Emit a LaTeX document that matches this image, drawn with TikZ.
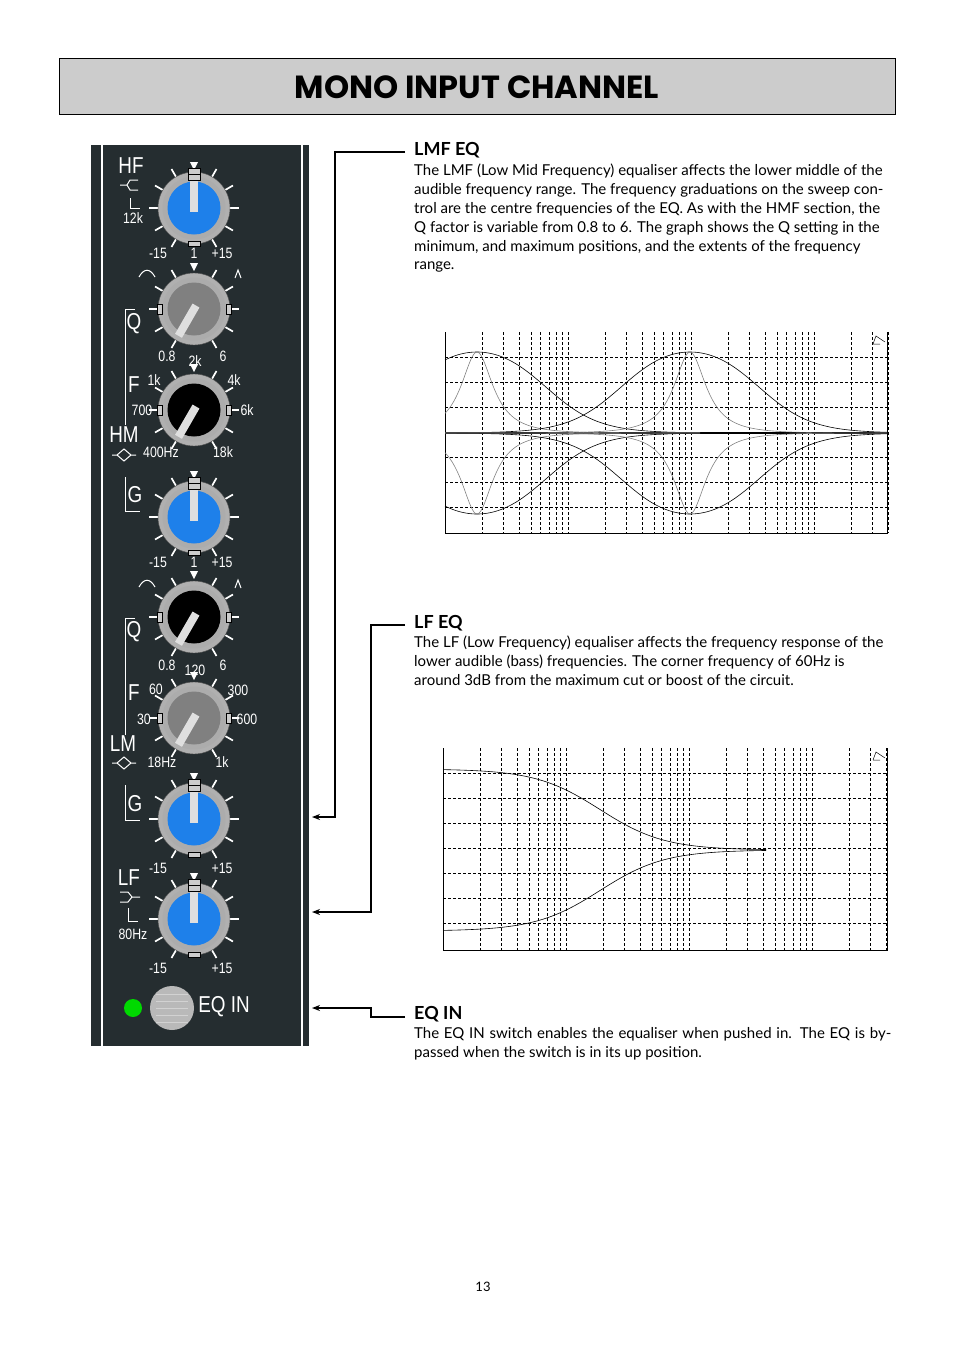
\documentclass[tikz,border=0pt]{standalone}
\usepackage{fontspec}
\setmainfont{Lato}
\newfontfamily\titlef{Poppins}
\newfontfamily\narrowf[FakeStretch=0.82]{Liberation Sans}
\usetikzlibrary{arrows.meta}
\definecolor{panel}{HTML}{252D30}
\definecolor{kblue}{HTML}{1E80EA}
\definecolor{ring}{HTML}{B0B0B0}
\tikzset{
 lbl/.style={text=white,font=\narrowf\fontsize{15}{15}\selectfont,inner sep=0pt},
 big/.style={text=white,font=\narrowf\fontsize{23}{23}\selectfont,inner sep=0pt},
 tick/.style={white,line width=1.7pt},
 wire/.style={line width=1.4pt,-{Stealth[length=8pt,width=6pt]}},
 grid/.style={densely dashed,line width=0.5pt},
 curve/.style={line width=0.6pt},
 para/.style={anchor=north west,align=left,inner sep=0pt,font=\fontsize{15}{18.8}\selectfont},
 head/.style={anchor=west,inner sep=0pt,font=\bfseries\fontsize{18}{18}\selectfont},
 brk/.style={white,line width=1pt}
}
\newcommand{\knobdraw}[5]{%
 \begin{scope}[shift={(#1,#2)}]
  \foreach \a in {-60,-30,0,30,60,120,150,180,210,240} \draw[tick] (\a:36) -- (\a:45);
  \fill[white] (-90:38) -- (-95:46) -- (-85:46) -- cycle;
  \fill[ring] (0,0) circle (36);
  \draw[gray!60!black,line width=0.4pt] (0,0) circle (36);
  \fill[gray!65] (0,0) circle (31.5);
  \fill[#3] (0,0) circle (26.5);
  \fill[gray!25,rotate=#4] (-4,-4) rectangle (31,4);
  \ifnum#5=1
   \draw[black,fill=gray!40] (-6,-40) rectangle (6,-34);
   \draw[black,fill=gray!40] (-6,-34) rectangle (6,-28);
   \draw[black,fill=gray!40] (-6,33) rectangle (6,38);
  \else
   \draw[black,fill=gray!40] (-37,-5) rectangle (-32,5);
   \draw[black,fill=gray!40] (32,-5) rectangle (37,5);
  \fi
 \end{scope}}
\begin{document}
\begin{tikzpicture}[x=1pt,y=-1pt]
\useasboundingbox (0,0) rectangle (954,1350);
% title
\draw[line width=1pt,fill=black!20] (59,58) rectangle (895,114);
\node[font=\titlef\bfseries\fontsize{32}{32}\selectfont] (title) at (477,87) {MONO INPUT CHANNEL};
% panel
\fill[panel] (91,145) rectangle (309,1046);
\draw[white,line width=1.3pt] (102,145) -- (102,1046) (302,145) -- (302,1046);
\knobdraw{194}{208}{kblue}{90}{1}
\knobdraw{194}{309}{gray}{240}{0}
\knobdraw{194}{410}{black}{240}{0}
\knobdraw{194}{517}{kblue}{90}{1}
\knobdraw{194}{617}{black}{240}{0}
\knobdraw{194}{718}{gray}{240}{0}
\knobdraw{194}{819}{kblue}{90}{1}
\knobdraw{194}{919}{kblue}{90}{1}
% labels
\node[big] (hf) at (131,166) {HF};
\draw[brk] (120,185) -- (127,185) (138,180) -- (130,180) -- (127,185) -- (130,190) -- (138,190);
\draw[brk] (130,198) -- (130,208) -- (140,208);
\node[lbl] at (133,218) {12k};
\foreach \y in {253,562,868,968} {\node[lbl] at (158,\y) {-15}; \node[lbl] at (222,\y) {+15};}
\node[lbl] at (194,253) {1}; \node[lbl] at (194,562) {1};
\foreach \y in {273,583} {
 \draw[brk] (139,\y+4) .. controls (144,\y-5) and (150,\y-5) .. (155,\y+4);
 \draw[brk] (235,\y+5) -- (238,\y-3) -- (241,\y+5);}
\foreach \y/\b in {309/425,618/735} \draw[brk] (135,\y) -- (125,\y) -- (125,\b);
\node[big] at (134,324) {Q}; \node[big] at (134,632) {Q};
\node[lbl] at (167,356) {0.8}; \node[lbl] at (223,356) {6}; \node[lbl] at (195,361) {2k};
\node[big] at (134,385) {F}; \node[lbl] at (154,380) {1k}; \node[lbl] at (234,380) {4k};
\node[lbl] at (142,410) {700}; \node[lbl] at (247,410) {6k};
\node[big] at (124,435) {HM};
\node[lbl] at (161,452) {400Hz}; \node[lbl] at (223,452) {18k};
\node[lbl] at (167,665) {0.8}; \node[lbl] at (223,665) {6}; \node[lbl] at (195,670) {120};
\node[big] at (134,693) {F}; \node[lbl] at (156,689) {60}; \node[lbl] at (238,690) {300};
\node[lbl] at (144,719) {30}; \node[lbl] at (247,719) {600};
\node[big] at (123,744) {LM};
\node[lbl] at (162,762) {18Hz}; \node[lbl] at (222,762) {1k};
\foreach \y in {455,763} \draw[brk] (112,\y) -- (117,\y) -- (124,\y-6) -- (131,\y) -- (124,\y+6) -- (117,\y) (131,\y) -- (136,\y);
\foreach \y/\b in {477/511,785/820} \draw[brk] (125,\y) -- (125,\b) -- (140,\b);
\node[big] at (135,495) {G}; \node[big] at (135,804) {G};
\node[big] at (129,878) {LF};
\draw[brk] (120,892) -- (128,892) -- (132,897) -- (128,902) -- (120,902) (132,897) -- (140,897);
\draw[brk] (128,908) -- (128,921) -- (138,921);
\node[lbl] at (133,934) {80Hz};
\fill[green!85!black] (133,1008) circle (9);
\fill[gray!55] (172,1008) circle (22);
\foreach \d in {-14,-7,0,7,14} \draw[gray!35,line width=0.6pt] (156,1008+\d) -- (188,1008+\d);
\node[big] (eqin) at (224,1007) {EQ IN};
% connectors
\coordinate (a1) at (405,152); \coordinate (a1b) at (335,152); \coordinate (a1c) at (335,817); \coordinate (a1e) at (312,817);
\draw[wire] (a1) -- (a1b) -- (a1c) -- (a1e);
\coordinate (a2) at (405,625); \coordinate (a2b) at (371,625); \coordinate (a2c) at (371,912); \coordinate (a2e) at (312,912);
\draw[wire] (a2) -- (a2b) -- (a2c) -- (a2e);
\coordinate (a3) at (405,1017); \coordinate (a3b) at (371,1017); \coordinate (a3c) at (371,1008); \coordinate (a3e) at (312,1008);
\draw[wire] (a3) -- (a3b) -- (a3c) -- (a3e);
% texts
\node[head] (h1) at (414,150) {LMF EQ};
\node[para] (p1) at (414,164) {The LMF (Low Mid Frequency) equaliser affects the lower middle of the\\audible frequency range. The frequency graduations on the sweep con-\\trol are the centre frequencies of the EQ. As with the HMF section, the\\Q factor is variable from 0.8 to 6. The graph shows the Q setting in the\\minimum, and maximum positions, and the extents of the frequency\\range.};
\node[head] (h2) at (414,623) {LF EQ};
\node[para] (p2) at (414,636) {The LF (Low Frequency) equaliser affects the frequency response of the\\lower audible (bass) frequencies. The corner frequency of 60Hz is\\around 3dB from the maximum cut or boost of the circuit.};
\node[head] (h3) at (414,1014) {EQ IN};
\node[para] (p3) at (414,1027) {\makebox[477pt][s]{The EQ IN switch enables the equaliser when pushed in. The EQ is by-}\\passed when the switch is in its up position.};
\node[font=\fontsize{13}{13}\selectfont] (pg) at (483,1287) {13};
% graph 1
\begin{scope}
\foreach \d/\mx in {0/9,1/9,2/9,3/4} \foreach \m in {1,...,\mx} \draw[grid] ({445+123*(\d+log10(\m))},332) -- ({445+123*(\d+log10(\m))},533);
\foreach \y in {357,382,...,508} \draw[grid] (445,\y) -- (887,\y);
\draw[line width=0.6pt] (445,332) -- (445,533) -- (887,533) -- (887,332);
\draw[line width=1.1pt] (445,433) -- (887,433);
\foreach \s in {1,-1} {
 \draw[curve] plot[domain=445:757,samples=120] (\x,{433-\s*81/(1+(0.52*sinh(2.3026*(\x-477)/123))^2)}) -- (887,433);
 \draw[curve,gray] plot[domain=445:700,samples=150] (\x,{433-\s*81/(1+(2.78*sinh(2.3026*(\x-477)/123))^2)});
 \draw[curve] plot[domain=445:887,samples=150] (\x,{433-\s*81/(1+(0.52*sinh(2.3026*(\x-690)/123))^2)});
 \draw[curve,gray] (445,433) -- plot[domain=470:887,samples=200] (\x,{433-\s*81/(1+(2.78*sinh(2.3026*(\x-690)/123))^2)});
}
\draw[line width=0.5pt] (873,344) -- (876,336) -- (885,342) (873,344) -- (880,344);
\end{scope}
% graph 2
\begin{scope}
\foreach \d/\mx in {0/9,1/9,2/9,3/4} \foreach \m in {1,...,\mx} \draw[grid] ({443+123*(\d+log10(\m))},748) -- ({443+123*(\d+log10(\m))},950);
\foreach \y in {773,798,...,925} \draw[grid] (443,\y) -- (887,\y);
\draw[line width=0.6pt] (443,748) -- (443,950) -- (887,950) -- (887,748);
\foreach \s in {1,-1}
 \draw[curve] plot[domain=443:766,samples=120] (\x,{850-\s*81/(1+exp(0.031*(\x-600)))});
\draw[line width=0.5pt] (873,760) -- (876,752) -- (885,758) (873,760) -- (880,760);
\end{scope}
\end{tikzpicture}
\end{document}
